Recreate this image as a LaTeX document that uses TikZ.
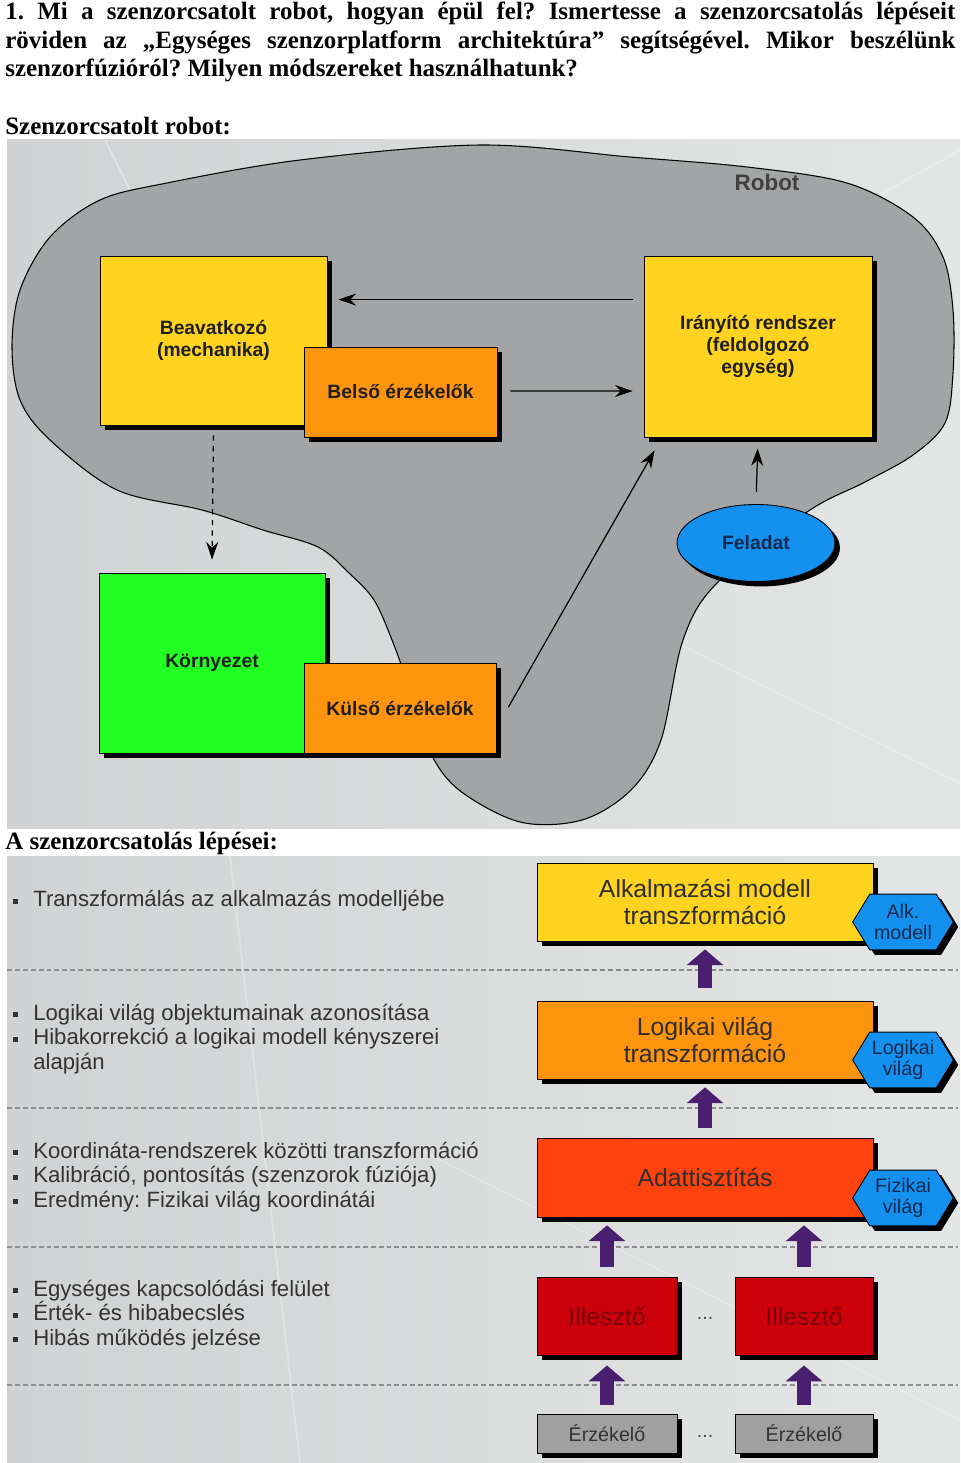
\documentclass[tikz,border=0pt]{standalone}
\usepackage{fontspec}
\setmainfont{Liberation Serif}
\setsansfont{Liberation Sans}
\usepackage{xcolor}
\usepackage{tikz}
\usetikzlibrary{positioning}
\usetikzlibrary{calc}
\usetikzlibrary{shapes,shadows}
\usetikzlibrary{arrows.meta}

\definecolor{boxyellow}{HTML}{FFD320}
\definecolor{boxorange}{HTML}{FF950E}
\definecolor{boxgreen}{HTML}{22FF22}
\definecolor{boxblue}{HTML}{1490EE}
\definecolor{boxred}{HTML}{FF420E}
\definecolor{illred}{HTML}{CC000B}
\definecolor{illtext}{HTML}{7A0008}
\definecolor{erzgray}{HTML}{A0A0A0}
\definecolor{fatpurple}{HTML}{4B1F6F}
\definecolor{blobgray}{HTML}{A2A4A5}
\definecolor{bgleft}{HTML}{D0D2D3}
\definecolor{bgright}{HTML}{E4E6E6}
\definecolor{navytext}{HTML}{12294F}
\definecolor{sepgray}{HTML}{8C8E8F}

\newdimen\pxu
\pxu=0.02cm
\newcommand{\bul}{\makebox[20\pxu][l]{\raisebox{3\pxu}{\rule{5\pxu}{5\pxu}}}}
\newcommand{\nobul}{\hspace*{20\pxu}}
\frenchspacing

\begin{document}
\begin{tikzpicture}[x=0.02cm, y=-0.02cm,
  shadowed/.style={drop shadow={shadow xshift=2.8pt, shadow yshift=-2.8pt, fill=black, opacity=1}},
  box/.style={draw=black, line width=0.5pt, inner sep=0pt, align=center, shadowed},
  toptxt/.style={font=\sffamily\bfseries\fontsize{11}{12.4}\selectfont, text=black!88},
  slidetxt/.style={font=\sffamily\fontsize{14.1}{15.3}\selectfont, text=black!82},
  smalltxt/.style={font=\sffamily\fontsize{11.2}{12.4}\selectfont},
  hexa/.style={signal, signal to=east and west, signal pointer angle=117, draw=black,
    line width=0.5pt, fill=boxblue, minimum width=57.3pt, minimum height=31.7pt,
    inner sep=0pt, align=center, smalltxt, text=navytext, shadowed},
  arr/.style={-{Stealth[length=10pt, width=6.8pt]}, line width=0.7pt},
  fat/.style={draw=fatpurple, line width=8.5pt, -{Triangle[length=9pt, width=20.4pt]}},
  sepline/.style={draw=sepgray, line width=0.6pt, dash pattern=on 2.8pt off 1.7pt},
  heading/.style={anchor=base west, inner sep=0pt, font=\bfseries\fontsize{14.2}{16}\selectfont}]
\useasboundingbox (0,0) rectangle (960,1463);

\node[heading] (q1) at (5,20) {\makebox[950\pxu][s]{1. Mi a szenzorcsatolt robot, hogyan épül fel? Ismertesse a szenzorcsatolás lépéseit}};
\node[heading] (q2) at (5,48.5) {\makebox[950\pxu][s]{röviden az „Egységes szenzorplatform architektúra” segítségével. Mikor beszélünk}};
\node[heading] (q3) at (5,77) {szenzorfúzióról? Milyen módszereket használhatunk?};
\node[heading] (robotcap) at (5,135) {Szenzorcsatolt robot:};
\node[heading] (stepscap) at (5,849) {A szenzorcsatolás lépései:};

% robot
\shade[left color=bgleft, right color=bgright] (7,140) rectangle (960,828);
\draw[white, opacity=0.35, line width=1.2pt] (105,140) -- (240,410);
\draw[white, opacity=0.25, line width=1pt] (367,490) -- (960,783);
\draw[white, opacity=0.25, line width=1pt] (300,520) -- (960,150);
\draw[fill=blobgray, line width=0.6pt] plot[smooth cycle, tension=0.55] coordinates {
  (480,145) (630,157) (747,167) (847,183) (913,217) (943,257) (953,310) (953,373)
  (945,423) (913,455) (865,482) (807,512) (717,583) (683,640) (661,740) (631,790)
  (582,820) (520,822) (459,790) (429,750) (410,690) (392,640) (374,600) (349,573)
  (318,547) (263,530) (202,510) (117,490) (50,440) (20,400) (12,347) (20,290)
  (50,237) (100,200) (167,183) (300,160)};
\node[font=\sffamily\bfseries\fontsize{12.8}{14}\selectfont, text=black!75] (robotlbl) at (767,182) {Robot};

\node[box, toptxt, fill=boxyellow, minimum width=227\pxu, minimum height=169\pxu] (beav) at (213.5,340.5) {Beavatkozó\\(mechanika)};
\node[box, toptxt, fill=boxorange, minimum width=193\pxu, minimum height=90\pxu] (belso) at (400.5,392) {Belső érzékelők};
\node[box, toptxt, fill=boxyellow, minimum width=228\pxu, minimum height=181\pxu] (iranyito) at (758,346.5) {Irányító rendszer\\(feldolgozó\\egység)};
\node[box, toptxt, ellipse, fill=boxblue, text=navytext, minimum width=158\pxu, minimum height=77\pxu] (feladat) at (756,543) {Feladat};
\node[box, toptxt, fill=boxgreen, minimum width=226\pxu, minimum height=180\pxu] (kornyezet) at (212,663) {Környezet};
\node[box, toptxt, fill=boxorange, minimum width=192\pxu, minimum height=90\pxu] (kulso) at (400,708) {Külső érzékelők};

\draw[arr] ($(iranyito.north west)+(-11,44)$) -- ($(beav.north east)+(11,44)$);
\draw[arr] ($(belso.east)+(13,-1)$) -- ($(iranyito.west)+(-11,44.5)$);
\draw[arr, dashed] ($(beav.south)+(0,10)$) -- ($(kornyezet.north)+(0,-13)$);
\draw[arr] ($(kulso.east)+(12,-1)$) -- ($(iranyito.south west)+(11,13)$);
\draw[arr, shorten <=6.8pt, shorten >=6.2pt] (feladat.north) -- (iranyito.south);

% lepesek
\shade[left color=bgleft, right color=bgright] (7,856) rectangle (960,1463);
\draw[white, opacity=0.3, line width=1pt] (230,856) -- (300,1463);
\draw[white, opacity=0.25, line width=1pt] (420,1150) -- (960,1420);
\foreach \ys in {970,1108,1247,1385}
  \draw[sepline] (7,\ys) -- (958,\ys);

\node[anchor=west, inner sep=0pt, align=left, font=\sffamily\fontsize{12.6}{13.9}\selectfont, text=black!80] (txtalk) at (13,901)
  {\bul Transzformálás az alkalmazás modelljébe};
\node[anchor=west, inner sep=0pt, align=left, font=\sffamily\fontsize{12.6}{13.9}\selectfont, text=black!80] (txtlog) at (13,1039)
  {\bul Logikai világ objektumainak azonosítása\\\bul Hibakorrekció a logikai modell kényszerei\\\nobul alapján};
\node[anchor=west, inner sep=0pt, align=left, font=\sffamily\fontsize{12.6}{13.9}\selectfont, text=black!80] (txtfiz) at (13,1177)
  {\bul Koordináta-rendszerek közötti transzformáció\\\bul Kalibráció, pontosítás (szenzorok fúziója)\\\bul Eredmény: Fizikai világ koordinátái};
\node[anchor=west, inner sep=0pt, align=left, font=\sffamily\fontsize{12.6}{13.9}\selectfont, text=black!80] (txtill) at (13,1315)
  {\bul Egységes kapcsolódási felület\\\bul Érték- és hibabecslés\\\bul Hibás működés jelzése};

\node[box, slidetxt, fill=boxyellow, minimum width=336\pxu, minimum height=78\pxu] (alk) at (705,902) {Alkalmazási modell\\transzformáció};
\node[box, slidetxt, fill=boxorange, minimum width=336\pxu, minimum height=78\pxu] (logikai) at (705,1040) {Logikai világ\\transzformáció};
\node[box, slidetxt, fill=boxred, minimum width=336\pxu, minimum height=79\pxu] (adat) at (705,1177.5) {Adattisztítás};
\node[box, slidetxt, fill=illred, text=illtext, minimum width=140\pxu, minimum height=78\pxu] (ill1) at (607,1316) {Illesztő};
\node[box, slidetxt, fill=illred, text=illtext, minimum width=138\pxu, minimum height=78\pxu] (ill2) at (804,1316) {Illesztő};
\node[box, smalltxt, fill=erzgray, text=black!80, minimum width=140\pxu, minimum height=39\pxu] (erz1) at (607,1433.5) {Érzékelő};
\node[box, smalltxt, fill=erzgray, text=black!80, minimum width=138\pxu, minimum height=39\pxu] (erz2) at (804,1433.5) {Érzékelő};
\node[smalltxt, text=black!70] (dotsill) at (705,1318) {...};
\node[smalltxt, text=black!70] (dotserz) at (705,1436) {...};

\node[hexa] (hexalk) at (903,922) {Alk.\\modell};
\node[hexa] (hexlog) at (903,1060) {Logikai\\világ};
\node[hexa] (hexfiz) at (903,1198) {Fizikai\\világ};

\draw[fat, shorten <=7.4pt, shorten >=4.5pt] (logikai.north) -- (alk.south);
\draw[fat, shorten <=5.7pt, shorten >=4.5pt] (adat.north) -- (logikai.south);
\draw[fat, shorten <=5.7pt, shorten >=4.5pt] (ill1.north) -- (adat.south -| ill1.north);
\draw[fat, shorten <=5.7pt, shorten >=4.5pt] (ill2.north) -- (adat.south -| ill2.north);
\draw[fat, shorten <=5.1pt, shorten >=5.7pt] (erz1.north) -- (ill1.south);
\draw[fat, shorten <=5.1pt, shorten >=5.7pt] (erz2.north) -- (ill2.south);
\end{tikzpicture}
\end{document}
